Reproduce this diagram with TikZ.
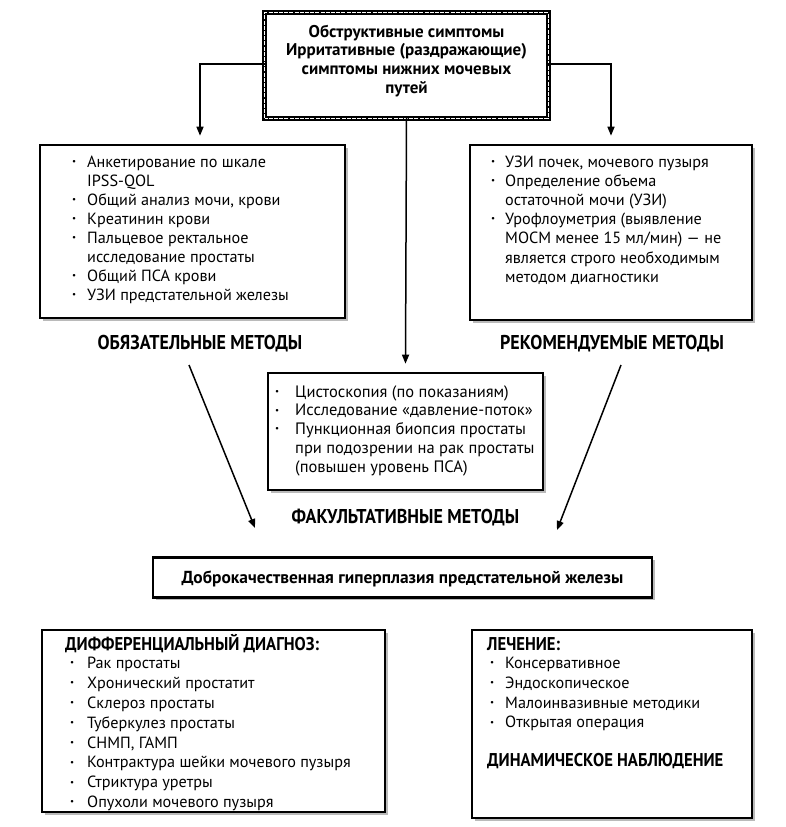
\documentclass[tikz,border=0pt]{standalone}
\usepackage{fontspec}
\setmainfont{PT Sans}
\newfontfamily\hdfont{PT Sans}[FakeStretch=0.9]
\usetikzlibrary{arrows.meta,shadows,calc}
\newcommand\bul{\raisebox{2.8pt}{\fontsize{9}{9}\selectfont •}}
\tikzset{
  box/.style={draw=black, line width=2.6pt, fill=white, inner sep=0pt,
    drop shadow={shadow xshift=2.5pt, shadow yshift=-2.5pt, fill=black!45, opacity=0.6}},
  txt/.style={inner sep=0pt, anchor=base west, align=left},
  head/.style={inner sep=0pt, anchor=base, font=\hdfont\bfseries\fontsize{20}{22}\selectfont},
  arr/.style={line width=1.5pt, -{Triangle[length=9pt,width=7pt]}},
}
\begin{document}
\begin{tikzpicture}[x=1pt,y=-1pt]
\useasboundingbox[fill=white] (0,0) rectangle (785,827);
% top box
\node[draw=none, fill=white, minimum width=283pt, minimum height=105pt, inner sep=0pt,
  drop shadow={shadow xshift=2.5pt, shadow yshift=-2.5pt, fill=black!45, opacity=0.6}] (top) at (406.5,65.5) {};
\draw[line width=5pt] (top.south west) rectangle (top.north east);
\draw[line width=1.1pt, white, dash pattern=on 4pt off 1.2pt] (top.south west) rectangle (top.north east);
\node[inner sep=0pt, anchor=base, font=\bfseries\fontsize{17}{18.7}\selectfont] (toptxt) at (406.5,37)
  {\begin{tabular}[t]{@{}c@{}}Обструктивные симптомы\\Ирритативные (раздражающие)\\симптомы нижних мочевых\\путей\end{tabular}};
% left box
\node[box, minimum width=305pt, minimum height=173pt] (lbox) at (192.5,231.5) {};
\node[txt, font=\fontsize{16.2}{19.1}\selectfont] (ltxt) at (72,167)
 {\begin{tabular}[t]{@{}p{15pt}@{}l@{}}
 \bul & Анкетирование по шкале\\
      & IPSS-QOL\\
 \bul & Общий анализ мочи, крови\\
 \bul & Креатинин крови\\
 \bul & Пальцевое ректальное\\
      & исследование простаты\\
 \bul & Общий ПСА крови\\
 \bul & УЗИ предстательной железы
 \end{tabular}};
% right box
\node[box, minimum width=282pt, minimum height=175pt] (rbox) at (611,232.5) {};
\node[txt, font=\fontsize{16.2}{19.2}\selectfont] (rtxt) at (491,167)
 {\begin{tabular}[t]{@{}p{14pt}@{}l@{}}
 \bul & УЗИ почек, мочевого пузыря\\
 \bul & Определение объема\\
      & остаточной мочи (УЗИ)\\
 \bul & Урофлоуметрия (выявление\\
      & МОСМ менее 15 мл/мин) — не\\
      & является строго необходимым\\
      & методом диагностики
 \end{tabular}};
% headings
\node[head] (obl) at (200,349) {ОБЯЗАТЕЛЬНЫЕ МЕТОДЫ};
\node[head] (rec) at (612,349) {РЕКОМЕНДУЕМЫЕ МЕТОДЫ};
% middle box
\node[box, minimum width=275pt, minimum height=117pt] (mbox) at (405.5,431.5) {};
\node[txt, font=\fontsize{16.5}{18.8}\selectfont] (mtxt) at (275,397)
 {\begin{tabular}[t]{@{}p{20pt}@{}l@{}}
 \bul & Цистоскопия (по показаниям)\\
 \bul & Исследование «давление-поток»\\
 \bul & Пункционная биопсия простаты\\
      & при подозрении на рак простаты\\
      & (повышен уровень ПСА)
 \end{tabular}};
\node[head] (fac) at (405.5,523) {ФАКУЛЬТАТИВНЫЕ МЕТОДЫ};
% BPH box
\node[box, minimum width=499pt, minimum height=40pt] (bph) at (402.5,577.5) {};
\node[inner sep=0pt, anchor=base, font=\bfseries\fontsize{17.4}{18}\selectfont] (bphtxt) at (402.5,583)
 {Доброкачественная гиперплазия предстательной железы};
% bottom left
\node[box, minimum width=343pt, minimum height=182pt] (dbox) at (213.5,721) {};
\node[txt, font=\fontsize{16.2}{19.9}\selectfont] (dtxt) at (65,650)
 {\begin{tabular}[t]{@{}p{22pt}@{}l@{}}
 \multicolumn{2}{@{}l@{}}{\hdfont\bfseries\fontsize{18.5}{19.9}\selectfont ДИФФЕРЕНЦИАЛЬНЫЙ ДИАГНОЗ:}\\[-1.5pt]
 \hspace{5pt}\bul & Рак простаты\\
 \hspace{5pt}\bul & Хронический простатит\\
 \hspace{5pt}\bul & Склероз простаты\\
 \hspace{5pt}\bul & Туберкулез простаты\\
 \hspace{5pt}\bul & СНМП, ГАМП\\
 \hspace{5pt}\bul & Контрактура шейки мочевого пузыря\\
 \hspace{5pt}\bul & Стриктура уретры\\
 \hspace{5pt}\bul & Опухоли мочевого пузыря
 \end{tabular}};
% bottom right
\node[box, minimum width=280pt, minimum height=188pt] (tbox) at (612,724) {};
\node[txt, font=\fontsize{16.2}{19.7}\selectfont] (ttxt) at (487,650)
 {\begin{tabular}[t]{@{}p{18pt}@{}l@{}}
 \multicolumn{2}{@{}l@{}}{\hdfont\bfseries\fontsize{18.5}{19.7}\selectfont ЛЕЧЕНИЕ:}\\[-1pt]
 \hspace{3pt}\bul & Консервативное\\
 \hspace{3pt}\bul & Эндоскопическое\\
 \hspace{3pt}\bul & Малоинвазивные методики\\
 \hspace{3pt}\bul & Открытая операция
 \end{tabular}};
\node[txt, font=\hdfont\bfseries\fontsize{18.5}{20}\selectfont] (dyn) at (487,766) {ДИНАМИЧЕСКОЕ НАБЛЮДЕНИЕ};
% connectors
\coordinate (lt) at ($(lbox.north)+(7.5,-8)$);
\coordinate (rt) at ($(rbox.north)+(0,-8)$);
\draw[arr] ([yshift=1.5pt]top.west) -| (lt);
\draw[arr] ([yshift=1.5pt]top.east) -| (rt);
\draw[arr] (top.south) -- ($(mbox.north)+(0,-8)$);
\coordinate (la) at (189,365);
\coordinate (lb) at (255,528);
\coordinate (ra) at (621,365);
\coordinate (rb) at (557,530);
\draw[arr] (la) -- (lb);
\draw[arr] (ra) -- (rb);
\end{tikzpicture}
\end{document}
